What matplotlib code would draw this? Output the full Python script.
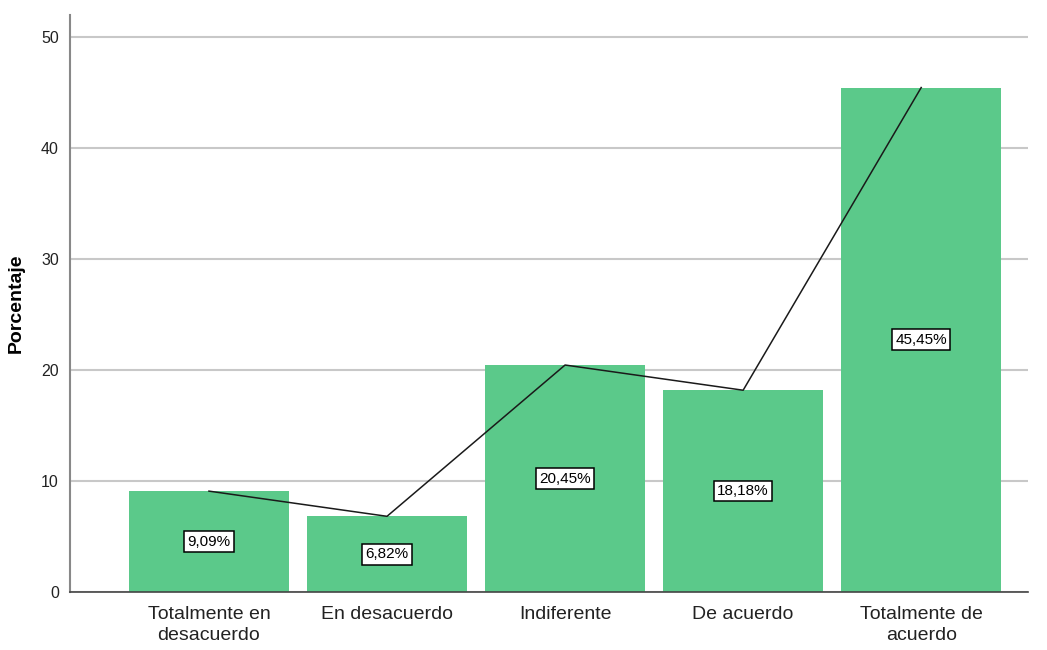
import matplotlib.pyplot as plt
import numpy as np

plt.rcParams['font.family'] = ['Liberation Sans', 'DejaVu Sans']

categorias = ["Totalmente en\ndesacuerdo", "En desacuerdo", "Indiferente",
              "De acuerdo", "Totalmente de\nacuerdo"]
porcentajes = [9.09, 6.82, 20.45, 18.18, 45.45]
etiquetas = ["9,09%", "6,82%", "20,45%", "18,18%", "45,45%"]

fig = plt.figure(figsize=(10.47, 6.5), dpi=100)
ax = fig.add_axes([0.0669, 0.0892, 0.915, 0.888])

x = np.arange(len(categorias))
ax.bar(x, porcentajes, width=0.9, color="#5BC98A", zorder=2)
ax.plot(x, porcentajes, color="#1a1a1a", lw=1.1, zorder=3)

for i in range(len(x)):
    ax.text(x[i], porcentajes[i] / 2, etiquetas[i], ha="center", va="center",
            fontsize=11, zorder=4,
            bbox=dict(boxstyle="square,pad=0.22", fc="white", ec="black", lw=1.1))

ax.set_xlim(-0.78, 4.6)
ax.set_ylim(0, 52)
ax.set_yticks([0, 10, 20, 30, 40, 50])
ax.yaxis.grid(True, color="#c8c8c8", lw=1.5, zorder=0)
ax.set_axisbelow(True)

ax.set_xticks(x)
ax.set_xticklabels(categorias, fontsize=14, color="#222222", linespacing=1.35)
ax.tick_params(axis="x", length=0, pad=10)
ax.tick_params(axis="y", length=0, pad=8, labelsize=11.5, labelcolor="#222222")

ax.set_ylabel("Porcentaje", fontsize=14, fontweight="bold", labelpad=12)

ax.spines["top"].set_visible(False)
ax.spines["right"].set_visible(False)
ax.spines["left"].set_color("#888888")
ax.spines["left"].set_linewidth(1.5)
ax.spines["bottom"].set_color("#444444")
ax.spines["bottom"].set_linewidth(1.2)

fig.savefig("out.png", dpi=100)
